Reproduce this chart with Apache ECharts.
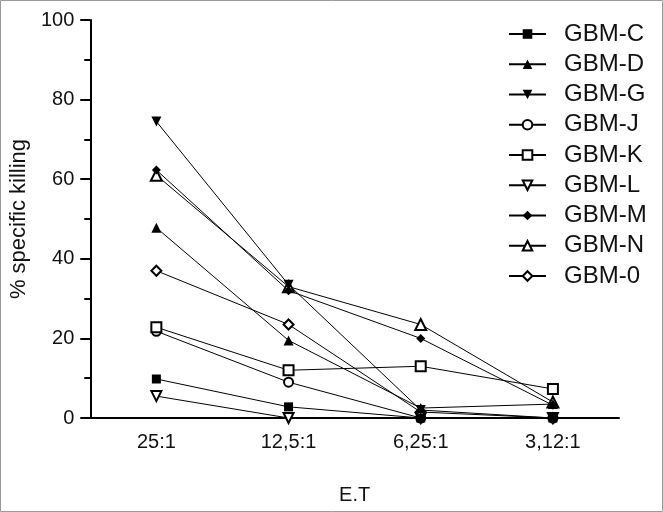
<!DOCTYPE html>
<html><head><meta charset="utf-8">
<script src="https://cdn.jsdelivr.net/npm/echarts@6/dist/echarts.min.js"></script>
<style>html,body{margin:0;padding:0;background:#fff}#c{width:663px;height:512px}</style>
</head><body><div id="c"></div>
<script>
const categories = ['25:1', '12,5:1', '6,25:1', '3,12:1'];
const seriesNames = ['GBM-C','GBM-D','GBM-G','GBM-J','GBM-K','GBM-L','GBM-M','GBM-N','GBM-0'];
const gbmC = [9.8, 2.8, 0, 0];
const gbmD = [47.8, 19.5, 2.5, 3.5];
const gbmG = [74.5, 33.5, 2, 0];
const gbmJ = [21.8, 9, 0, 0];
const gbmK = [22.8, 12, 13, 7.3];
const gbmL = [5.5, 0, 0, 0];
const gbmM = [62.3, 32, 20, 3.2];
const gbmN = [61, 33, 23.5, 4];
const gbm0 = [37, 23.5, 1.5, 0];
const yTicks = [0, 20, 40, 60, 80, 100];

const values = [gbmC, gbmD, gbmG, gbmJ, gbmK, gbmL, gbmM, gbmN, gbm0];
const invTri = 'path://M0,0 L10,0 L5,9 Z';
const markers = [
  {symbol:'rect', size:9, open:false},
  {symbol:'triangle', size:10, open:false},
  {symbol:invTri, size:10, open:false},
  {symbol:'circle', size:9, open:true},
  {symbol:'rect', size:10, open:true},
  {symbol:invTri, size:10, open:true},
  {symbol:'diamond', size:9, open:false},
  {symbol:'triangle', size:11, open:true},
  {symbol:'diamond', size:10, open:true}
];
const font = '"Liberation Sans", Arial, sans-serif';
const chart = echarts.init(document.getElementById('c'));
chart.setOption({
  animation: false,
  backgroundColor: '#fff',
  graphic: [{type:'rect', shape:{x:0.5,y:0.5,width:662,height:511}, style:{fill:'none', stroke:'#9a9a9a', lineWidth:1}, silent:true}],
  grid: {left: 88, right: 44, top: 20, bottom: 94},
  legend: {
    orient: 'vertical', left: 503, top: 17,
    itemWidth: 37, itemHeight: 12, itemGap: 6.25,
    textStyle: {fontFamily: font, fontSize: 24, color: '#111', lineHeight: 24, padding: [0,0,0,13]},
    data: seriesNames
  },
  xAxis: {
    type: 'category', data: categories, boundaryGap: true,
    name: 'E.T', nameLocation: 'middle', nameGap: 67,
    nameTextStyle: {fontFamily: font, fontSize: 20, color: '#111'},
    axisLine: {lineStyle: {color: '#000', width: 2}},
    axisTick: {alignWithLabel: true, length: 8, lineStyle: {color: '#000', width: 2}},
    axisLabel: {fontFamily: font, fontSize: 20, color: '#111', margin: 14}
  },
  yAxis: {
    type: 'value', min: yTicks[0], max: yTicks[yTicks.length-1], interval: 20,
    name: '% specific killing', nameLocation: 'middle', nameGap: 49,
    nameTextStyle: {fontFamily: font, fontSize: 22, color: '#111'},
    axisLine: {show: true, lineStyle: {color: '#000', width: 2}},
    axisTick: {show: true, length: 10, lineStyle: {color: '#000', width: 2}},
    minorTick: {show: true, splitNumber: 2, length: 6, lineStyle: {color: '#000', width: 2}},
    splitLine: {show: false},
    axisLabel: {fontFamily: font, fontSize: 20, color: '#111', margin: 16}
  },
  series: seriesNames.map((n, i) => ({
    name: n, type: 'line', data: values[i],
    symbol: markers[i].symbol, symbolSize: markers[i].size, showAllSymbol: true,
    lineStyle: {color: '#000', width: 1},
    itemStyle: markers[i].open ? {color: '#fff', borderColor: '#000', borderWidth: 2} : {color: '#000', borderColor: '#000', borderWidth: 0},
    emphasis: {disabled: true},
    z: markers[i].open ? 3 : 4
  }))
});
</script></body></html>
